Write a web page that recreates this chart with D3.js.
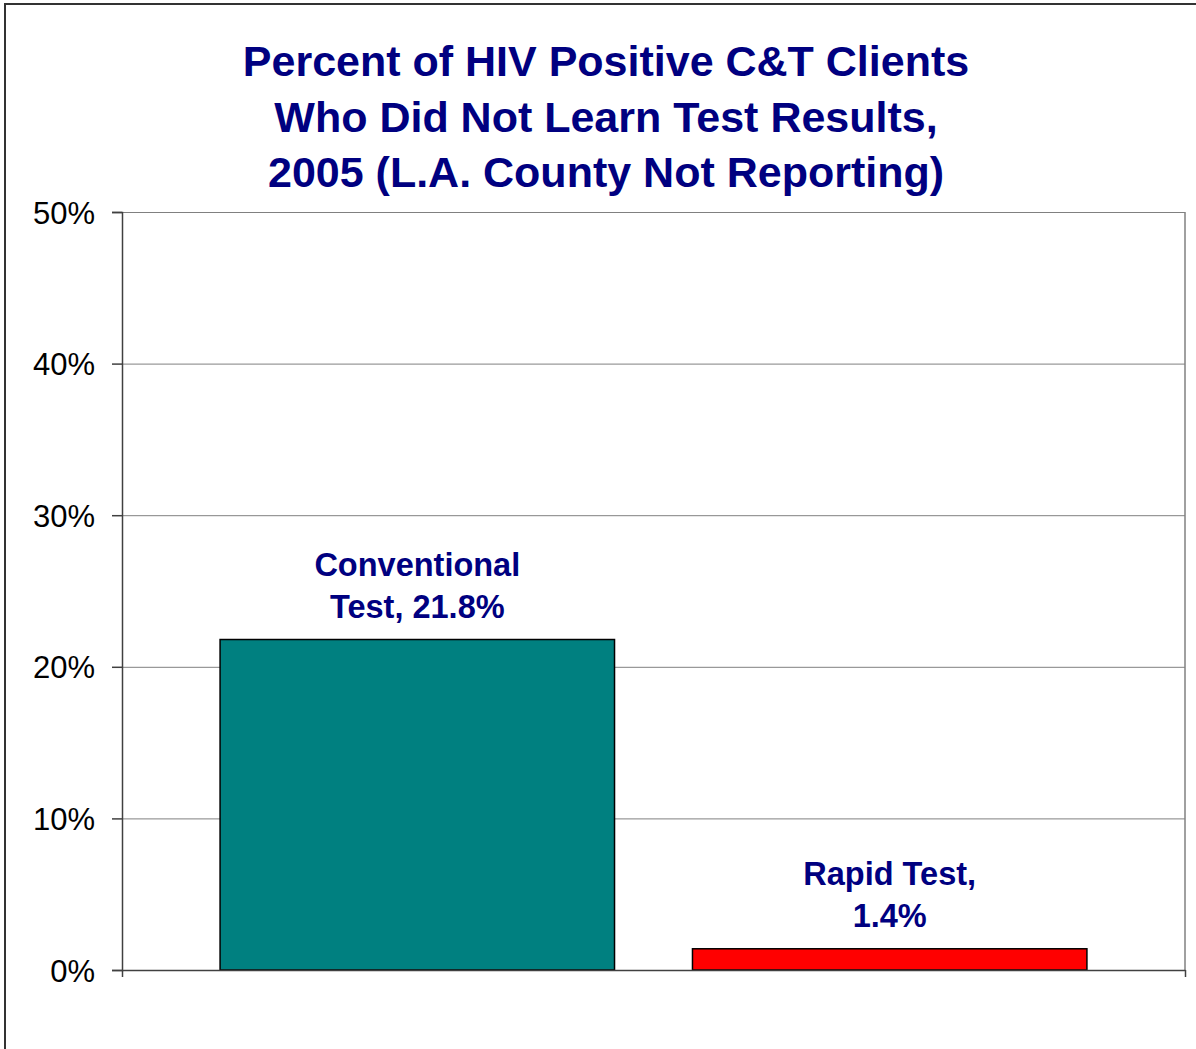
<!DOCTYPE html>
<html>
<head>
<meta charset="utf-8">
<script src="https://cdn.jsdelivr.net/npm/d3@7"></script>
<style>
  body { margin: 0; background: #fff; }
  svg { display: block; font-family: "Liberation Sans", Arial, sans-serif; }
</style>
</head>
<body>
<script>
// data
var titleLines = ["Percent of HIV Positive C&T Clients",
                  "Who Did Not Learn Test Results,",
                  "2005 (L.A. County Not Reporting)"];
var series = ["Conventional Test", "Rapid Test"];
var values = [21.8, 1.4];
var labelLines = [["Conventional", "Test, 21.8%"], ["Rapid Test,", "1.4%"]];
var colors = ["#008080", "#ff0000"];
var yTicks = [0, 10, 20, 30, 40, 50];

var width = 1196, height = 1049;
var plot = {left: 122, right: 1185, top: 212, bottom: 970};

var svg = d3.select("body").append("svg")
    .attr("width", width)
    .attr("height", height);

// outer chart border
svg.append("rect")
    .attr("x", 5).attr("y", 4)
    .attr("width", 1240).attr("height", 1100)
    .attr("fill", "none")
    .attr("stroke", "#333")
    .attr("stroke-width", 2);

// title
svg.append("g").selectAll("text")
    .data(titleLines)
    .enter().append("text")
    .attr("x", 606)
    .attr("y", function (d, i) { return 76 + i * 55.5; })
    .attr("text-anchor", "middle")
    .attr("font-size", "43px")
    .attr("font-weight", "bold")
    .attr("fill", "#000080")
    .text(function (d) { return d; });

var y = d3.scaleLinear()
    .domain([0, 50])
    .range([plot.bottom, plot.top]);

var x = d3.scaleBand()
    .domain(series)
    .range([plot.left, plot.right])
    .paddingInner(0.165)
    .paddingOuter(0.2076);

// gridlines
svg.append("g")
    .attr("transform", "translate(" + plot.left + ",0)")
    .call(d3.axisLeft(y).tickValues(yTicks.slice(1)).tickSize(-(plot.right - plot.left)).tickFormat(""))
    .call(function (g) { g.select(".domain").remove(); })
    .selectAll("line")
    .attr("stroke", "#808080")
    .attr("stroke-width", 1);

// plot area right edge
svg.append("line")
    .attr("x1", plot.right).attr("x2", plot.right)
    .attr("y1", plot.top).attr("y2", plot.bottom)
    .attr("stroke", "#808080")
    .attr("stroke-width", 1.5);

// bars
svg.append("g").selectAll("rect")
    .data(values)
    .enter().append("rect")
    .attr("x", function (d, i) { return x(series[i]); })
    .attr("y", function (d) { return y(d); })
    .attr("width", x.bandwidth())
    .attr("height", function (d) { return y(0) - y(d); })
    .attr("fill", function (d, i) { return colors[i]; })
    .attr("stroke", "#000")
    .attr("stroke-width", 1.5);

// bar labels
var labels = svg.append("g").selectAll("g")
    .data(values)
    .enter().append("g");
labels.selectAll("text")
    .data(function (d, i) {
        return labelLines[i].map(function (t, j) {
            return {text: t, x: x(series[i]) + x.bandwidth() / 2, y: y(d) - 64 + j * 42};
        });
    })
    .enter().append("text")
    .attr("x", function (d) { return d.x; })
    .attr("y", function (d) { return d.y; })
    .attr("text-anchor", "middle")
    .attr("font-size", "32.5px")
    .attr("font-weight", "bold")
    .attr("fill", "#000080")
    .text(function (d) { return d.text; });

// y axis
var yAxis = svg.append("g")
    .attr("transform", "translate(" + plot.left + ",0)")
    .call(d3.axisLeft(y).tickValues(yTicks).tickSize(10).tickPadding(17)
        .tickFormat(function (d) { return d + "%"; }));
yAxis.select(".domain").attr("stroke", "#404040").attr("stroke-width", 1.5);
yAxis.selectAll(".tick line").attr("stroke", "#404040").attr("stroke-width", 1.5);
yAxis.selectAll("text")
    .attr("font-size", "31px")
    .attr("font-family", "Liberation Sans, Arial, sans-serif")
    .attr("fill", "#000")
    .attr("dy", "0.36em");

// x axis (single category, ticks at the edges)
var xEdge = d3.scaleLinear().domain([0, 1]).range([plot.left, plot.right]);
var xAxis = svg.append("g")
    .attr("transform", "translate(0," + plot.bottom + ")")
    .call(d3.axisBottom(xEdge).tickValues([0, 1]).tickSize(7).tickSizeOuter(0).tickFormat(""));
xAxis.select(".domain").attr("stroke", "#404040").attr("stroke-width", 1.5);
xAxis.selectAll(".tick line").attr("stroke", "#404040").attr("stroke-width", 1.5);
</script>
</body>
</html>
